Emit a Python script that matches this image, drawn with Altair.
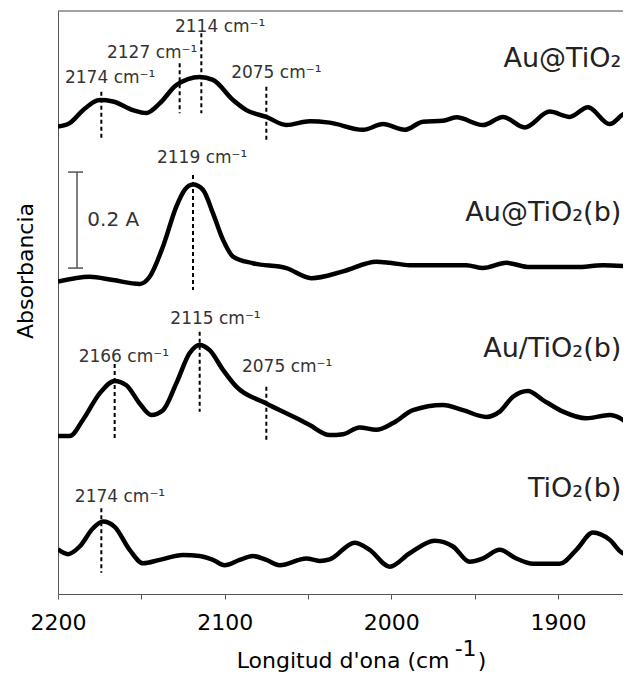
import altair as alt
import pandas as pd

FONT = "DejaVu Sans"

# ---- spectra (wavenumber, absorbance incl. vertical offset) ----
c1_w = [2200, 2193, 2185, 2175, 2167, 2155, 2147, 2139, 2129, 2115, 2107, 2095, 2087, 2075,
        2063, 2049, 2037, 2017, 2005, 1992, 1981, 1969, 1961, 1945, 1933, 1920, 1905, 1893,
        1882, 1869, 1859, 1856]
c1_a = [0.974, 0.981, 1.008, 1.029, 1.026, 1.008, 1.002, 1.022, 1.060, 1.077, 1.071, 1.029,
        1.008, 0.994, 0.977, 0.985, 0.982, 0.967, 0.979, 0.967, 0.984, 0.986, 0.993, 0.977,
        0.994, 0.972, 1.005, 0.994, 1.014, 0.979, 1.002, 0.998]

c2_w = [2200, 2181, 2167, 2151, 2145, 2137, 2129, 2124, 2119, 2113, 2107, 2101, 2095, 2083,
        2063, 2048, 2029, 2009, 2001, 1989, 1969, 1955, 1945, 1931, 1917, 1889, 1873, 1856]
c2_a = [0.651, 0.661, 0.654, 0.646, 0.661, 0.724, 0.807, 0.842, 0.853, 0.842, 0.793, 0.738,
        0.703, 0.689, 0.679, 0.658, 0.672, 0.692, 0.690, 0.685, 0.685, 0.685, 0.679, 0.690,
        0.681, 0.681, 0.685, 0.682]

c3_w = [2200, 2193, 2185, 2175, 2166, 2159, 2151, 2144, 2137, 2129, 2121, 2115, 2109, 2101,
        2093, 2075, 2055, 2049, 2037, 2029, 2019, 2009, 1999, 1987, 1969, 1957, 1943, 1935,
        1927, 1918, 1909, 1897, 1883, 1869, 1856]
c3_a = [0.329, 0.329, 0.363, 0.418, 0.444, 0.435, 0.397, 0.373, 0.383, 0.439, 0.502, 0.519,
        0.508, 0.467, 0.432, 0.397, 0.363, 0.352, 0.331, 0.333, 0.347, 0.342, 0.356, 0.383,
        0.394, 0.383, 0.369, 0.380, 0.411, 0.423, 0.404, 0.380, 0.366, 0.373, 0.350]

c4_w = [2200, 2194, 2187, 2179, 2173, 2166, 2157, 2149, 2139, 2125, 2115, 2107, 2100, 2091,
        2083, 2075, 2067, 2051, 2043, 2037, 2022, 2013, 2001, 1989, 1974, 1963, 1953, 1945,
        1935, 1925, 1915, 1899, 1889, 1879, 1869, 1861, 1856]
c4_a = [0.093, 0.083, 0.099, 0.137, 0.151, 0.140, 0.092, 0.064, 0.071, 0.081, 0.079, 0.071,
        0.060, 0.071, 0.079, 0.071, 0.060, 0.074, 0.069, 0.072, 0.107, 0.092, 0.057, 0.085,
        0.111, 0.099, 0.067, 0.074, 0.092, 0.074, 0.063, 0.063, 0.092, 0.128, 0.113, 0.085,
        0.083]

series_names = ["Au@TiO\u2082", "Au@TiO\u2082(b)", "Au/TiO\u2082(b)", "TiO\u2082(b)"]
series_label_w = [1862.0, 1862.0, 1862.0, 1862.0]
series_label_a = [1.0985, 0.7777, 0.4944, 0.2027]

# ---- peak markers ----
peak_w = [2174, 2127, 2114, 2075, 2119, 2166, 2115, 2075, 2174]
peak_top = [1.0465, 1.1056, 1.1681, 1.0569, 0.8729, 0.4792, 0.5465, 0.4319, 0.1785]
peak_bot = [0.9458, 1.0015, 1.0015, 0.9458, 0.6333, 0.3229, 0.3798, 0.3173, 0.0444]
peak_text_w = [2168.7, 2143.5, 2102.7, 2069.0, 2113.5, 2160.5, 2105.5, 2062.5, 2162.8]
peak_text_a = [1.0646, 1.1167, 1.1708, 1.0750, 0.8973, 0.4827, 0.5625, 0.4619, 0.1923]
peak_text = [f"{v} cm\u207b\u00b9" for v in peak_w]

# scale bar (0.2 A)
bar_w = 2188.6
bar_lo, bar_hi = 0.679, 0.879
bar_cap = [2194, 2185]

tick_values = [2200, 2150, 2100, 2050, 2000, 1950, 1900]
x_end = 1861.0

rows = []
for name, ws, as_ in zip(series_names, [c1_w, c2_w, c3_w, c4_w], [c1_a, c2_a, c3_a, c4_a]):
    for w, a in zip(ws, as_):
        rows.append({"s": name, "w": w, "a": a})
df = pd.DataFrame(rows)

x_scale = alt.Scale(domain=[2200, x_end], nice=False, zero=False)
y_scale = alt.Scale(domain=[0, 583 / 480], nice=False, zero=False)

x_axis = alt.Axis(values=tick_values, format="d",
                  labelExpr="datum.value % 100 == 0 ? datum.label : ''",
                  title=None, grid=False, tickSize=5, labelPadding=13, labelFlush=False,
                  labelFont=FONT, labelFontSize=22, labelColor="black",
                  domainColor="#555", tickColor="#555", labelOverlap=False)
y_axis = alt.Axis(title=None, ticks=False, labels=False, grid=False, domainColor="#555")

X = lambda: alt.X("w:Q", title=None)
Y = lambda: alt.Y("a:Q", title=None)

lines = alt.Chart(df).mark_line(color="black", strokeWidth=4.5, interpolate="monotone",
                                clip=True).encode(
    x=alt.X("w:Q", scale=x_scale, axis=x_axis),
    y=alt.Y("a:Q", scale=y_scale, axis=y_axis),
    detail="s:N",
)

pk = pd.DataFrame({"w": peak_w, "a": peak_top, "a2": peak_bot})
dashes = alt.Chart(pk).mark_rule(color="black", strokeWidth=2, strokeDash=[4, 3]).encode(
    x=X(), y=Y(), y2="a2:Q")

pt = pd.DataFrame({"w": peak_text_w, "a": peak_text_a, "t": peak_text})
ptext = alt.Chart(pt).mark_text(font=FONT, fontSize=17, color="#333", align="center",
                                baseline="alphabetic").encode(x=X(), y=Y(), text="t:N")

st = pd.DataFrame({"w": series_label_w, "a": series_label_a, "t": series_names})
stext = alt.Chart(st).mark_text(font=FONT, fontSize=27, color="#222", align="right",
                                baseline="alphabetic").encode(x=X(), y=Y(), text="t:N")

bar_v = alt.Chart(pd.DataFrame({"w": [bar_w], "a": [bar_lo], "a2": [bar_hi]})).mark_rule(
    color="#555", strokeWidth=1.5).encode(x=X(), y=Y(), y2="a2:Q")
bar_h = alt.Chart(pd.DataFrame({"w": [bar_cap[0]] * 2, "w2": [bar_cap[1]] * 2, "a": [bar_lo, bar_hi]})).mark_rule(
    color="#555", strokeWidth=1.5).encode(x=X(), x2="w2:Q", y=Y())
bar_t = alt.Chart(pd.DataFrame({"w": [2182.4], "a": [0.7667], "t": ["0.2 A"]})).mark_text(
    font=FONT, fontSize=20, color="#333", align="left", baseline="alphabetic").encode(
    x=X(), y=Y(), text="t:N")

top = alt.Chart(pd.DataFrame({"w": [2200], "w2": [x_end]})).mark_rule(color="#444", strokeWidth=1).encode(
    x=X(), x2="w2:Q", y=alt.value(0))

ytitle = alt.Chart(pd.DataFrame({"t": ["Absorbancia"]})).mark_text(
    font=FONT, fontSize=22, color="black", align="center", baseline="alphabetic", angle=270).encode(
    x=alt.value(-25), y=alt.value(260), text="t:N")

xt1 = alt.Chart(pd.DataFrame({"t": ["Longitud d'ona (cm"]})).mark_text(
    font=FONT, fontSize=22, color="black", align="left", baseline="alphabetic").encode(
    x=alt.datum(2092.8), y=alt.value(657), text="t:N")
xt2 = alt.Chart(pd.DataFrame({"t": ["-1"]})).mark_text(
    font=FONT, fontSize=22, color="black", align="left", baseline="alphabetic").encode(
    x=alt.datum(1962.0), y=alt.value(645), text="t:N")
xt3 = alt.Chart(pd.DataFrame({"t": [")"]})).mark_text(
    font=FONT, fontSize=22, color="black", align="left", baseline="alphabetic").encode(
    x=alt.datum(1948.2), y=alt.value(657), text="t:N")

chart = alt.layer(lines, dashes, ptext, stext, bar_v, bar_h, bar_t, top, ytitle, xt1, xt2, xt3).properties(
    width=565, height=583,
    background="white",
    autosize=alt.AutoSizeParams(type="none"),
    padding={"left": 50, "top": 3, "right": 0, "bottom": 79},
).configure_view(stroke=None)

chart.save("out.html", embed_options={"renderer": "svg", "actions": False})
